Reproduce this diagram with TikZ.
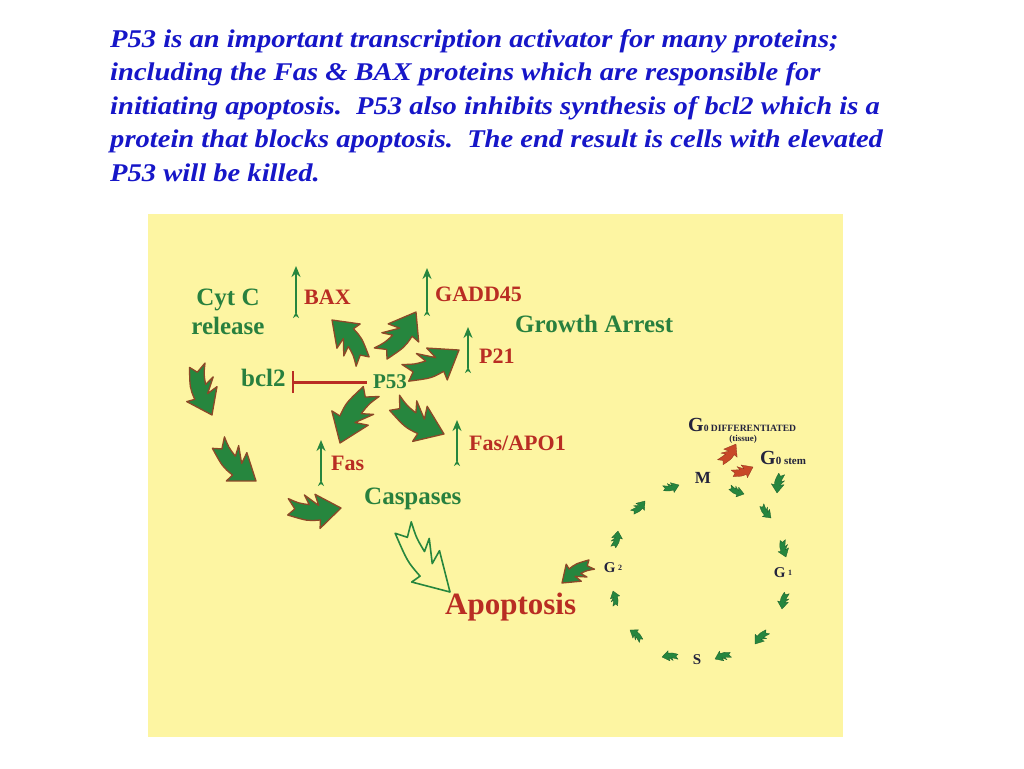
\documentclass[tikz,border=0pt]{standalone}
\usepackage{fontspec}
\setmainfont{Liberation Serif}
\usetikzlibrary{positioning, arrows.meta, calc}

\definecolor{slideyellow}{RGB}{253,245,162}
\definecolor{leafgreen}{RGB}{38,134,62}
\definecolor{leafbrown}{RGB}{140,72,40}
\definecolor{labelgreen}{RGB}{40,128,62}
\definecolor{labelred}{RGB}{185,45,35}
\definecolor{titleblue}{RGB}{22,22,200}
\definecolor{phasenavy}{RGB}{35,35,60}
\definecolor{cyclered}{RGB}{200,72,40}

% curved arrow with forked tail, drawn from tail to tip
\makeatletter
\newcommand\leafarrow[3][]{%
  \path (#2) coordinate (leaftail) (#3) coordinate (leaftip);
  \pgfmathanglebetweenpoints{\pgfpointanchor{leaftail}{center}}{\pgfpointanchor{leaftip}{center}}%
  \let\leafangle\pgfmathresult
  \pgfpointdiff{\pgfpointanchor{leaftail}{center}}{\pgfpointanchor{leaftip}{center}}%
  \edef\leafdx{\the\pgf@x}\edef\leafdy{\the\pgf@y}%
  \pgfmathveclen{\leafdx}{\leafdy}%
  \let\leaflength\pgfmathresult
  \path[shift={(leaftail)}, rotate=\leafangle, scale=\leaflength, leaf, #1]
    (0,0.17) -- (0.13,0.05) -- (0,-0.14) .. controls (0.2,-0.06) .. (0.40,-0.04)
    -- (0.30,-0.22) -- (0.58,-0.03) -- (0.50,-0.24) -- (1,0) -- (0.62,0.40)
    -- (0.62,0.24) .. controls (0.38,0.27) .. (0,0.17) -- cycle;
}
\makeatother

\begin{document}
\begin{tikzpicture}[x=1pt, y=-1pt]
	\tikzset{
		every node/.style={inner sep=0pt},
		leaf/.style={fill=leafgreen, draw=leafbrown, line width=1.3pt, line join=round},
		smallleaf/.style={fill=leafgreen, draw=leafgreen!70!black, line width=0.3pt},
		redleaf/.style={fill=cyclered, draw=cyclered!70!black, line width=0.3pt},
		hollow/.style={fill=slideyellow, draw=leafgreen, line width=1.6pt, yscale=0.8},
		greenlabel/.style={text=labelgreen, font=\bfseries\fontsize{25}{29}\selectfont},
		redlabel/.style={text=labelred, font=\bfseries\fontsize{22}{26}\selectfont},
		phase/.style={text=phasenavy, font=\bfseries\fontsize{16}{18}\selectfont},
		thinup/.style={draw=leafgreen, line width=2.5pt, {Stealth[length=6pt,width=6pt,reversed]}-{Stealth[length=11pt,width=9pt]}},
		inhibit/.style={draw=labelred, line width=3pt, -{Bar[width=22pt,line width=2.5pt]}}
	}
	\useasboundingbox (0,0) rectangle (1024,768);
	\fill[white] (0,0) rectangle (1024,768);

	% Title text
	\node[anchor=north west, align=left, text=titleblue, xscale=1.12, transform shape,
		font=\bfseries\itshape\fontsize{25.5}{33.5}\selectfont] (title) at (110,29)
		{P53 is an important transcription activator for many proteins;\\
		including the Fas \& BAX proteins which are responsible for\\
		initiating apoptosis.\ \ P53 also inhibits synthesis of bcl2 which is a\\
		protein that blocks apoptosis.\ \ The end result is cells with elevated\\
		P53 will be killed.};

	% Panel
	\fill[slideyellow] (148,214) rectangle (843,737);

	% Labels
	\node[greenlabel, align=center] (cytc) at (228,312) {Cyt C\\release};
	\node[greenlabel, anchor=west] (bcl2) at (241,378) {bcl2};
	\node[greenlabel, font=\bfseries\fontsize{21}{24}\selectfont] (p53) at (390,382) {P53};
	\node[redlabel, anchor=west] (bax) at (304,297) {BAX};
	\node[redlabel, anchor=west] (gadd) at (435,294) {GADD45};
	\node[greenlabel, anchor=west] (growth) at (515,324) {Growth Arrest};
	\node[redlabel, anchor=west] (p21) at (479,356) {P21};
	\node[redlabel, anchor=west] (fasapo) at (469,443) {Fas/APO1};
	\node[redlabel, anchor=west] (fas) at (331,463) {Fas};
	\node[greenlabel, anchor=west] (casp) at (364,499) {Caspases};
	\node[text=labelred, font=\bfseries\fontsize{31}{34}\selectfont, anchor=west] (apop) at (445,607) {Apoptosis};

	% Cell cycle labels
	\node[phase, anchor=west] (gdiff) at (688,425) {{\fontsize{20}{20}\selectfont G}{\fontsize{9.6}{10}\selectfont 0 DIFFERENTIATED}};
	\node[phase, font=\bfseries\fontsize{9}{10}\selectfont] (tissue) at (743,439) {(tissue)};
	\node[phase, anchor=west] (gstem) at (760,458) {{\fontsize{20}{20}\selectfont G}{\fontsize{11}{12}\selectfont 0 stem}};
	\node[phase, font=\bfseries\fontsize{17}{18}\selectfont] (mphase) at (703,478) {M};
	\node[phase, font=\bfseries\fontsize{15}{18}\selectfont] (gtwo) at (613,568) {G\,\raisebox{2pt}{\fontsize{8}{8}\selectfont 2}};
	\node[phase, font=\bfseries\fontsize{15}{18}\selectfont] (gone) at (783,573) {G\,\raisebox{2pt}{\fontsize{8}{8}\selectfont 1}};
	\node[phase, font=\bfseries\fontsize{15}{18}\selectfont] (sphase) at (697,660) {S};

	% Up arrows
	\draw[thinup] ($(bax.west)+(-8,21)$) -- ($(bax.west)+(-8,-31)$);
	\draw[thinup] ($(gadd.west)+(-8,22)$) -- ($(gadd.west)+(-8,-26)$);
	\draw[thinup] ($(p21.west)+(-11,17)$) -- ($(p21.west)+(-11,-29)$);
	\draw[thinup] ($(fasapo.west)+(-12,23)$) -- ($(fasapo.west)+(-12,-23)$);
	\draw[thinup] ($(fas.west)+(-10,23)$) -- ($(fas.west)+(-10,-23)$);

	% bcl2 block
	\draw[inhibit, shorten <=6pt, shorten >=6pt] (p53.west) -- (p53.west -| bcl2.east);

	% Cyt C chain
	\leafarrow{198,365}{212,415}
	\leafarrow{219,442}{256,481}
	\leafarrow{288,506}{341,508}

	% From P53
	\leafarrow{362,362}{332,320}
	\leafarrow{380,353}{416,312}
	\leafarrow{405,372}{459,350}
	\leafarrow{395,402}{444,434}
	\leafarrow{372,392}{340,443}

	% Caspases to apoptosis
	\leafarrow[hollow]{404,527}{450,592}
	\leafarrow{592,565}{562,583}

	% Cell cycle
	\foreach \ax/\ay/\bx/\by in {663/488/679/485, 632/512/645/501, 613/547/618/531,
		615/606/613/591, 641/641/630/630, 678/657/662/657, 731/655/715/659,
		768/632/755/644, 787/593/782/609, 783/540/786/557, 762/505/771/518,
		730/487/744/494, 782/474/777/493}
		{\leafarrow[smallleaf]{\ax,\ay}{\bx,\by}}
	\leafarrow[redleaf]{720,462}{736,444}
	\leafarrow[redleaf]{732,473}{753,467}
\end{tikzpicture}
\end{document}
